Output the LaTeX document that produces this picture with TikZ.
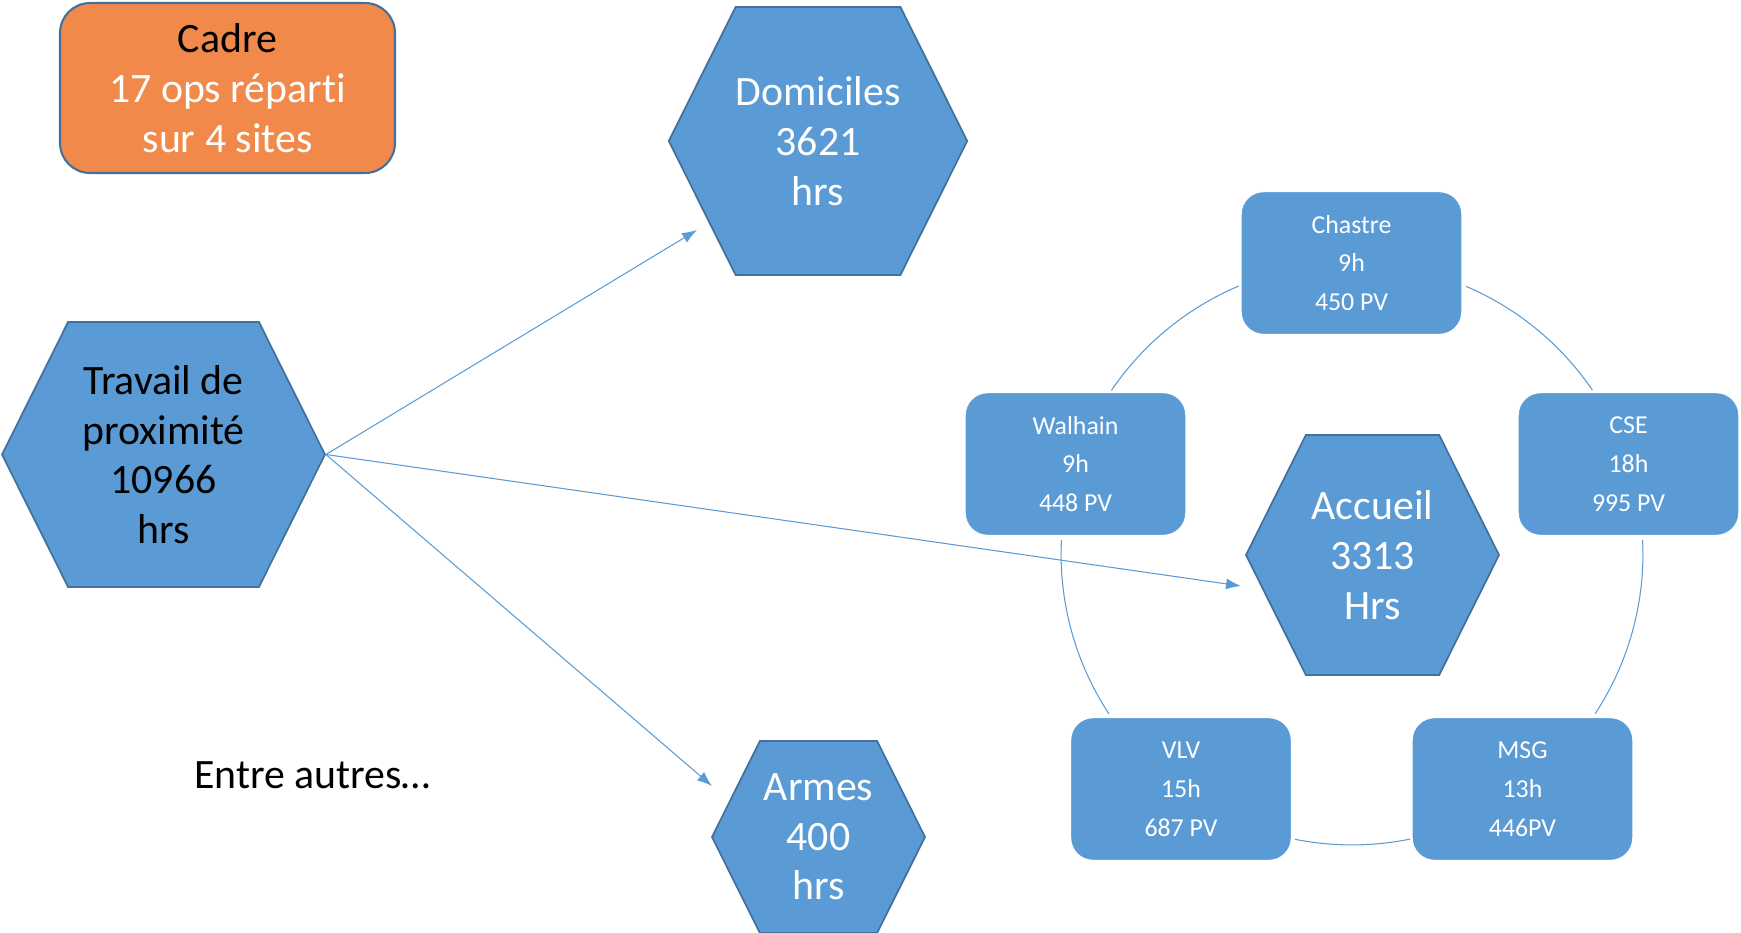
\documentclass[tikz,border=0pt]{standalone}
\usepackage{fontspec}
\setmainfont[Ligatures=NoCommon]{Carlito}
\usetikzlibrary{shapes.symbols}
\usetikzlibrary{arrows.meta}
\definecolor{boxblue}{HTML}{5B9BD5}
\definecolor{edgeblue}{HTML}{41719C}
\definecolor{cadreorange}{HTML}{F0894A}

\begin{document}
\begin{tikzpicture}[x=0.02cm,y=-0.02cm,
hexa/.style={signal, signal to=west and east, signal pointer angle=127,
fill=boxblue, draw=edgeblue, line width=1pt, inner sep=0pt, align=center,
text=white, font=\fontsize{23.8}{28.3}\selectfont},
site/.style={rectangle, rounded corners=0.45cm, fill=boxblue, draw=white,
line width=0.8pt, minimum width=4.42cm, minimum height=2.86cm,
align=center, text=white, font=\fontsize{14.7}{22.1}\selectfont},
link/.style={draw=boxblue, line width=0.6pt,
-{Latex[length=0.3cm,width=0.22cm]}},
ring/.style={draw=boxblue, line width=0.6pt}]
\useasboundingbox (0,0) rectangle (1741,933);
\node[rectangle, rounded corners=0.6cm, fill=cadreorange, draw=edgeblue,
line width=1.2pt, minimum width=6.7cm, minimum height=3.4cm, align=center,
text=white, font=\fontsize{23.8}{28.3}\selectfont] (cadre) at (227.5,88)
{\textcolor{black}{Cadre}\\17 ops réparti\\sur 4 sites};
\node[hexa, text=black, minimum width=6.46cm, minimum height=5.3cm] (prox)
at (163.5,454.5) {Travail de\\proximité\\10966\\hrs};
\node[hexa, minimum width=5.96cm, minimum height=5.36cm] (dom)
at (818,141) {Domiciles\\3621\\hrs};
\node[hexa, minimum width=5.06cm, minimum height=4.8cm] (acc)
at (1372.5,555) {Accueil\\3313\\Hrs};
\node[hexa, minimum width=4.26cm, minimum height=3.84cm] (armes)
at (818.5,837) {Armes\\400\\hrs};
\node[font=\fontsize{23.8}{28.3}\selectfont] (autres) at (312.5,775)
{Entre autres…};
\node[site] (chastre) at (1351.5,263) {Chastre\\9h\\450 PV};
\node[site] (cse) at (1628.5,464) {CSE\\18h\\995 PV};
\node[site] (msg) at (1522.5,789) {MSG\\13h\\446PV};
\node[site] (vlv) at (1181,789) {VLV\\15h\\687 PV};
\node[site] (walhain) at (1075.5,464) {Walhain\\9h\\448 PV};
\coordinate (hub) at (1352,554);
\foreach \a/\b in {145.8/112.9, 66.9/34.3, 2.8/-33.3, -78.5/-101.3,
-146.6/-182.8}
\draw[ring] ([shift={(\a:5.82cm)}]hub) arc[start angle=\a,
end angle=\b, radius=5.82cm];
\coordinate (tipdom) at (697,230);
\coordinate (tipacc) at (1241,586);
\coordinate (tiparmes) at (712,786);
\draw[link] (prox.east) -- (tipdom);
\draw[link] (prox.east) -- (tipacc);
\draw[link] (prox.east) -- (tiparmes);
\end{tikzpicture}
\end{document}
